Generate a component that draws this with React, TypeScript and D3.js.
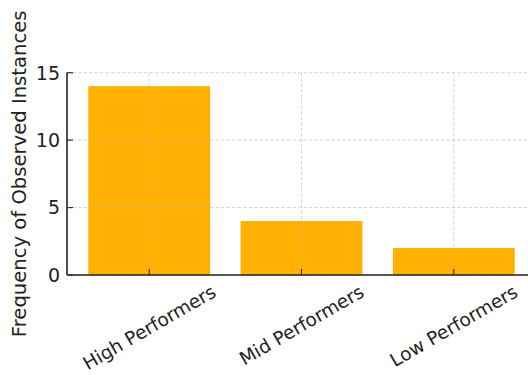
import React, { useEffect, useRef } from "react";
import * as d3 from "d3";

const categories = ["High Performers", "Mid Performers", "Low Performers"];
const counts = [14, 4, 2];
const yTicks = [0, 5, 10, 15];
const yLabel = "Frequency of Observed Instances";

const W = 528;
const H = 375;
const FONT = "DejaVu Sans, sans-serif";

export default function App() {
  const ref = useRef<SVGSVGElement | null>(null);

  useEffect(() => {
    const svg = d3.select(ref.current);
    svg.selectAll("*").remove();

    const left = 67;
    const bottom = 275;
    const top = 72.7;
    const x = d3.scaleLinear().domain([-0.54, 2.54]).range([left, 536]);
    const y = d3.scaleLinear().domain([0, 15]).range([bottom, top]);
    const barHalf = 0.4;

    // bars
    svg
      .append("g")
      .selectAll("rect")
      .data(counts)
      .join("rect")
      .attr("x", (_, i) => x(i - barHalf))
      .attr("width", (_, i) => x(i + barHalf) - x(i - barHalf))
      .attr("y", (d) => y(d))
      .attr("height", (d) => y(0) - y(d))
      .attr("fill", "#FFB000");

    // grid drawn over the bars
    const grid = svg.append("g").attr("stroke", "#b0b0b0").attr("stroke-opacity", 0.5)
      .attr("stroke-width", 1).attr("stroke-dasharray", "3.5,2");
    grid.selectAll("line.h").data(yTicks).join("line").attr("class", "h")
      .attr("x1", left).attr("x2", W).attr("y1", (d) => y(d)).attr("y2", (d) => y(d));
    grid.selectAll("line.v").data(categories).join("line").attr("class", "v")
      .attr("x1", (_, i) => x(i)).attr("x2", (_, i) => x(i)).attr("y1", top).attr("y2", bottom);

    // spines
    svg.append("line").attr("x1", left).attr("x2", left).attr("y1", top).attr("y2", bottom)
      .attr("stroke", "#222").attr("stroke-width", 1.6);
    svg.append("line").attr("x1", left).attr("x2", W).attr("y1", bottom).attr("y2", bottom)
      .attr("stroke", "#222").attr("stroke-width", 1.6);

    // ticks (inward)
    svg.append("g").selectAll("line").data(yTicks).join("line")
      .attr("x1", left).attr("x2", left + 6).attr("y1", (d) => y(d)).attr("y2", (d) => y(d))
      .attr("stroke", "#333").attr("stroke-width", 1.2);
    svg.append("g").selectAll("line").data(categories).join("line")
      .attr("x1", (_, i) => x(i)).attr("x2", (_, i) => x(i)).attr("y1", bottom).attr("y2", bottom - 6)
      .attr("stroke", "#333").attr("stroke-width", 1.2);

    // y tick labels
    svg.append("g").selectAll("text").data(yTicks).join("text")
      .attr("x", left - 7).attr("y", (d) => y(d)).attr("dy", "0.36em")
      .attr("text-anchor", "end").attr("font-family", FONT).attr("font-size", 19)
      .attr("fill", "#222").text((d) => String(d));

    // x tick labels, rotated about their centre
    const fs = 18.5;
    const ang = 30;
    const rad = (ang * Math.PI) / 180;
    const xl = svg.append("g");
    categories.forEach((c, i) => {
      const t = xl.append("text")
        .attr("font-family", FONT).attr("font-size", fs).attr("fill", "#222")
        .attr("text-anchor", "middle").attr("dominant-baseline", "central")
        .text(c);
      const w = (t.node() as SVGTextElement).getComputedTextLength();
      const hh = fs * 1.0;
      const bh = w * Math.sin(rad) + hh * Math.cos(rad);
      const cy = bottom + 7 + bh / 2;
      t.attr("transform", `translate(${x(i)},${cy}) rotate(${-ang})`);
    });

    // y axis title
    svg.append("text")
      .attr("transform", `translate(19,${(top + bottom) / 2}) rotate(-90)`)
      .attr("text-anchor", "middle").attr("dominant-baseline", "central")
      .attr("font-family", FONT).attr("font-size", 19.6).attr("fill", "#222")
      .text(yLabel);
  }, []);

  return (
    <svg
      ref={ref}
      width={W}
      height={H}
      style={{ position: "absolute", left: 0, top: 0, background: "#fff" }}
    />
  );
}
